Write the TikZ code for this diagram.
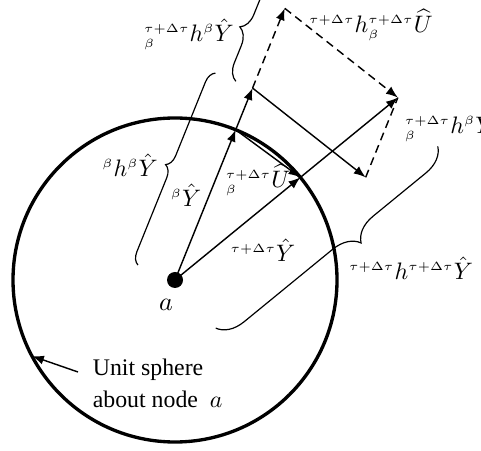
\documentclass[tikz,border=0pt]{standalone}
\usepackage{fontspec}
\setmainfont{Liberation Serif}
\DeclareMathSizes{10}{10}{5}{5}
\usetikzlibrary{arrows.meta,calc,decorations.pathreplacing}
\tikzset{
  >={Latex[length=5pt,width=3.8pt]},
  sphere/.style={draw=black, line width=1.4pt},
  vec/.style={->, draw=black, line width=0.6pt},
  dvec/.style={->, draw=black, line width=0.6pt, dash pattern=on 3.4pt off 2.2pt},
  dline/.style={draw=black, line width=0.6pt, dash pattern=on 3.4pt off 2.2pt},
  brc/.style={decorate, draw=black, line width=0.5pt},
  lbl/.style={inner sep=1pt, font=\normalsize},
}

\begin{document}
\begin{tikzpicture}[x=0.42pt,y=0.42pt]
    \useasboundingbox (0,0) rectangle (481,450);
    % node a and its unit sphere
    \coordinate (a) at (175,170);
    \draw[sphere] (a) circle[radius=162];
    \fill (a) circle[radius=8];
    % tips of the vectors
    \coordinate (yb)   at ($(a)+(68:162)$);
    \coordinate (hyb)  at ($(a)+(68:207)$);
    \coordinate (ptop) at ($(a)+(68:293)$);
    \coordinate (yt)   at ($(a)+(39.3:162)$);
    \coordinate (q)    at ($(a)+(39.3:288)$);
    \coordinate (r)    at ($(hyb)+(q)-(ptop)$);
    \draw[vec](a)--(yb);
    \draw[vec](yb)--(hyb);
    \draw[vec](a)--(yt);
    \draw[vec](yt)--(q);
    \draw[vec](yb)--(yt);
    \draw[vec](hyb)--(r);
    \draw[dvec](hyb)--(ptop);
    \draw[dvec](ptop)--(q);
    \draw[dline](r)--(q);
    % braces
    \draw[brc,decoration={brace,amplitude=5pt}]
         ($(a)+(158:40)$) -- ($(hyb)+(158:40)$);
    \draw[brc,decoration={brace,amplitude=7pt}]
         ($(hyb)+(158:18)$) -- ($(a)+(68:311)+(158:18)$);
    \draw[brc,decoration={brace,amplitude=11pt,aspect=0.42}]
         ($(q)+(-50.7:63)$) -- ($(a)+(-50.7:63)$);
    % labels
    \node[lbl] (lyb)  at (186,255) {${}^{\beta}\hat{Y}$};
    \node[lbl] (lub)  at (258,270) {${}^{\tau+\Delta\tau}_{\beta}\widehat{U}$};
    \node[lbl] (lyt)  at (263,200) {${}^{\tau+\Delta\tau}\hat{Y}$};
    \node[lbl] (lhyb) at (130,285) {${}^{\beta}h^{\beta}\hat{Y}$};
    \node[lbl] (ldyb) at (189,416) {${}^{\tau+\Delta\tau}_{\beta}h^{\beta}\hat{Y}$};
    \node[lbl] (lhu)  at (371,425) {${}^{\tau+\Delta\tau}h^{\tau+\Delta\tau}_{\beta}\widehat{U}$};
    \node[lbl,anchor=west] (ldyr) at (402,324) {${}^{\tau+\Delta\tau}_{\beta}h^{\beta}\hat{Y}$};
    \node[lbl] (lhyt) at (411,182) {${}^{\tau+\Delta\tau}h^{\tau+\Delta\tau}\hat{Y}$};
    \node[lbl,font=\fontsize{11}{13}\selectfont] (la) at (166,145) {$a$};
    \node[lbl,anchor=west,align=left,font=\fontsize{10}{13.4}\selectfont]
         (lsph) at (90,67) {Unit sphere\\about node~~$a$};
    \coordinate (ptr)  at (78,78);
    \coordinate (usph) at ($(a)+(208:162)$);
    \draw[vec](ptr)--(usph);
\end{tikzpicture}
\end{document}
